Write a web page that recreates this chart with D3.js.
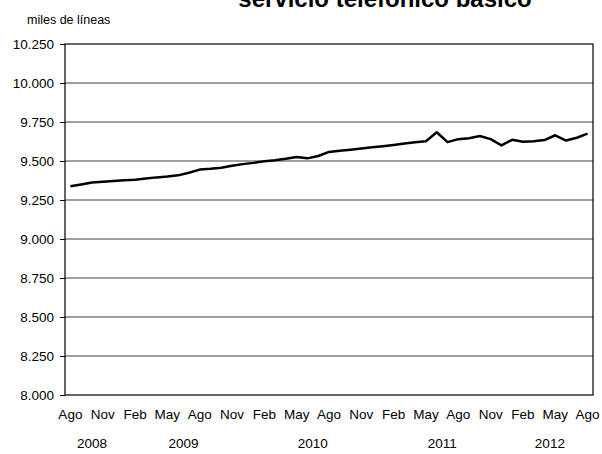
<!DOCTYPE html>
<html>
<head>
<meta charset="utf-8">
<script src="https://cdn.jsdelivr.net/npm/d3@7"></script>
<style>
  html, body { margin: 0; padding: 0; background: #fff; }
  svg { display: block; font-family: "Liberation Sans", Arial, sans-serif; }
</style>
</head>
<body>
<svg id="chart" width="602" height="454"></svg>
<script>
// ---- data ----
const months = [
  "Ago","Sep","Oct","Nov","Dic",
  "Ene","Feb","Mar","Abr","May","Jun","Jul","Ago","Sep","Oct","Nov","Dic",
  "Ene","Feb","Mar","Abr","May","Jun","Jul","Ago","Sep","Oct","Nov","Dic",
  "Ene","Feb","Mar","Abr","May","Jun","Jul","Ago","Sep","Oct","Nov","Dic",
  "Ene","Feb","Mar","Abr","May","Jun","Jul","Ago"
];
const years = [
  2008,2008,2008,2008,2008,
  2009,2009,2009,2009,2009,2009,2009,2009,2009,2009,2009,2009,
  2010,2010,2010,2010,2010,2010,2010,2010,2010,2010,2010,2010,
  2011,2011,2011,2011,2011,2011,2011,2011,2011,2011,2011,2011,
  2012,2012,2012,2012,2012,2012,2012,2012
];
const lineas = [
  9338, 9350, 9362, 9367, 9372,
  9377, 9380, 9388, 9395, 9400, 9408, 9425, 9445, 9450, 9457, 9470, 9480,
  9488, 9498, 9505, 9515, 9525, 9517, 9532, 9558, 9565, 9572, 9580, 9588,
  9595, 9603, 9612, 9620, 9627, 9684, 9621, 9640, 9646, 9660, 9640, 9600,
  9636, 9623, 9627, 9634, 9665, 9631, 9649, 9675
];
const yTicks = [8000, 8250, 8500, 8750, 9000, 9250, 9500, 9750, 10000, 10250];
const titleText = "servicio telefónico básico";
const unitText = "miles de líneas";

// ---- layout ----
const svg = d3.select("#chart");
const L = 65, R = 593, T = 44, B = 395;

const idx = d3.range(lineas.length);
const x = d3.scaleBand().domain(idx).range([L, R]).paddingInner(0).paddingOuter(0);
const y = d3.scaleLinear().domain([8000, 10250]).range([B, T]);
const fmtY = v => (v / 1000).toFixed(3); // 10.250 style (dot as thousands separator)

// gridlines
svg.append("g")
  .selectAll("line")
  .data(yTicks.filter(t => t !== 8000 && t !== 10250))
  .join("line")
  .attr("x1", L).attr("x2", R)
  .attr("y1", d => y(d)).attr("y2", d => y(d))
  .attr("stroke", "#808080").attr("stroke-width", 1.5);

// y axis
const yAxis = d3.axisLeft(y).tickValues(yTicks).tickSize(5).tickPadding(6)
  .tickFormat(fmtY);
const gy = svg.append("g").attr("transform", `translate(${L},0)`).call(yAxis);
gy.select(".domain").remove();
gy.selectAll(".tick line").attr("stroke", "#000");
gy.selectAll(".tick text").attr("font-size", 13.5).attr("fill", "#000")
  .attr("font-family", "Liberation Sans, Arial, sans-serif");

// plot border
svg.append("rect")
  .attr("x", L).attr("y", T).attr("width", R - L).attr("height", B - T)
  .attr("fill", "none").attr("stroke", "#000").attr("stroke-width", 1.2);

// x axis month labels (every 3 months)
const xAxis = d3.axisBottom(x)
  .tickValues(idx.filter(i => i % 3 === 0))
  .tickSize(0).tickPadding(14)
  .tickFormat(i => months[i]);
const gx = svg.append("g").attr("transform", `translate(0,${B})`).call(xAxis);
gx.select(".domain").remove();
gx.selectAll(".tick text").attr("font-size", 13.5).attr("fill", "#000")
  .attr("font-family", "Liberation Sans, Arial, sans-serif");

// year labels centered under their months
const yearGroups = d3.groups(idx, i => years[i]);
svg.append("g").selectAll("text")
  .data(yearGroups)
  .join("text")
  .attr("x", d => {
    const a = x(d[1][0]), b = x(d[1][d[1].length - 1]) + x.bandwidth();
    return (a + b) / 2;
  })
  .attr("y", 448)
  .attr("text-anchor", "middle")
  .attr("font-size", 13.5)
  .text(d => d[0]);

// line
const line = d3.line()
  .x(i => x(i) + x.bandwidth() / 2)
  .y(i => y(lineas[i]));
svg.append("path")
  .datum(idx)
  .attr("d", line)
  .attr("fill", "none")
  .attr("stroke", "#000")
  .attr("stroke-width", 2.5)
  .attr("stroke-linejoin", "round");

// unit label
svg.append("text").attr("x", 27).attr("y", 24)
  .attr("font-size", 12.5).text(unitText);

// title (partially cut off at the top, as in the reference)
svg.append("text").attr("x", 385).attr("y", 7)
  .attr("text-anchor", "middle").attr("font-size", 24).attr("font-weight", "bold")
  .text(titleText);
</script>
</body>
</html>
